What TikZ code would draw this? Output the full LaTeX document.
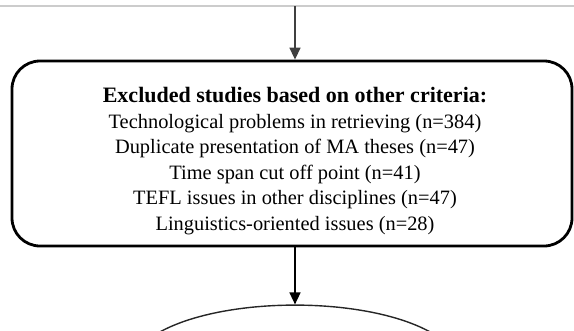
\documentclass[tikz,border=0pt]{standalone}
\usepackage{fontspec}
\setmainfont{Liberation Serif}
\usetikzlibrary{shapes,arrows.meta,positioning}

\begin{document}
\begin{tikzpicture}[
    x=1pt, y=1pt,
    node distance=57pt,
    frame/.style={rectangle, draw, line width=2.8pt, rounded corners=28pt, minimum width=560pt, minimum height=185pt},
    list/.style={align=center, inner sep=0pt, font=\fontsize{20.4}{25.5}\selectfont},
    oval/.style={ellipse, draw=black!85, line width=1.4pt, minimum width=324pt, minimum height=120pt},
    arrow/.style={-{Triangle[width=11pt,length=12pt]}, line width=1.5pt}
]
\useasboundingbox (0,0) rectangle (574,-330);
\draw[black!20, line width=2pt] (0,-6) -- (574,-6);
\coordinate (cut) at (295,-6);

\node[frame] (excluded) at (292,-153.5) {};
\node[list] (criteria) at (295,-161) {{\fontsize{22}{25.5}\selectfont\bfseries Excluded studies based on other criteria:}\\
Technological problems in retrieving (n=384)\\
Duplicate presentation of MA theses (n=47)\\
Time span cut off point (n=41)\\
TEFL issues in other disciplines (n=47)\\
Linguistics-oriented issues (n=28)};
\node[oval, below=of excluded.south -| cut, anchor=north] (next) {};

\draw[arrow, black!75] (cut) -- (cut |- excluded.north);
\draw[arrow] (cut |- excluded.south) -- (next);
\end{tikzpicture}
\end{document}
